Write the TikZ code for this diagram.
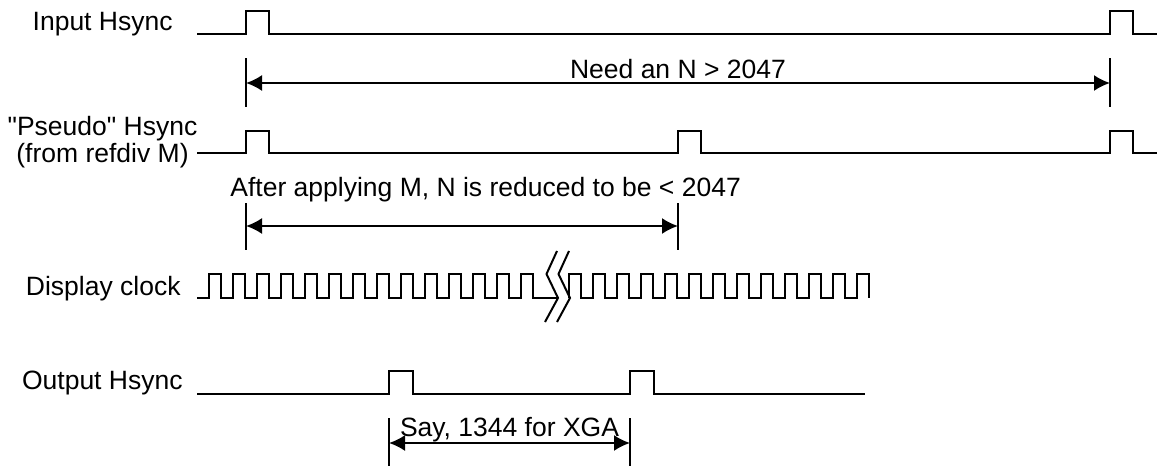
\documentclass[tikz,border=0pt]{standalone}
\usepackage{fontspec}
\newfontfamily\lblfont{Liberation Sans}
\usetikzlibrary{arrows.meta}

\begin{document}
\begin{tikzpicture}[x=0.5pt, y=-0.5pt,
        sig/.style={black, line width=1pt},
        lbl/.style={inner sep=0pt, font=\lblfont\fontsize{13.25}{13.5}\selectfont},
        dim/.style={black, line width=1pt, >={Latex[length=8pt,width=8pt]}, <->}]
        \useasboundingbox (0,0) rectangle (1157,466);

        \node[lbl, anchor=base east] (inlbl) at (173,30) {Input Hsync};
        \node[lbl, anchor=base, align=center] (pslbl) at (102.5,162) {"Pseudo" Hsync\\(from refdiv M)};
        \node[lbl, anchor=base east] (clklbl) at (181,295) {Display clock};
        \node[lbl, anchor=base east] (outlbl) at (183,389) {Output Hsync};

        \draw [sig] (197,34) -- (246,34) -- (246,11) -- (269,11) -- (269,34)
            -- (1110,34) -- (1110,11) -- (1133,11) -- (1133,34) -- (1157,34);
        \draw [sig] (197,153)
            foreach \x in {246,678,1110} { -- (\x,153) -- (\x,131) -- (\x+23,131) -- (\x+23,153) }
            -- (1157,153);
        \draw [sig] (197,394)
            foreach \x in {389,630} { -- (\x,394) -- (\x,371) -- (\x+24,371) -- (\x+24,394) }
            -- (865,394);

        \draw [sig] (197,298)
            foreach \k in {0,...,13} { -- ({209+24*\k},298) -- ++(0,-24) -- ++(12,0) -- ++(0,24) }
            -- (558,298);
        \draw [sig] (569,298)
            foreach \k in {0,...,12} { -- ({569+24*\k},298) -- ++(0,-24) -- ++(12,0) -- ++(0,24) };
        \draw [sig] (557,251) -- (546.5,274) -- (558,298) -- (545,322);
        \draw [sig] (569,251) -- (558.5,274) -- (570,298) -- (557,322);

        \coordinate (n0) at (246,83);
        \coordinate (n1) at (1110,83);
        \draw [sig] (246,58) -- (246,107);
        \draw [sig] (1110,58) -- (1110,107);
        \draw [dim] (n0) -- node[lbl, midway, anchor=base, yshift=2.3pt] (nlbl) {Need an N > 2047} (n1);

        \coordinate (m0) at (246,226);
        \coordinate (m1) at (678,226);
        \draw [sig] (246,203) -- (246,250);
        \draw [sig] (678,203) -- (678,250);
        \draw [dim] (m0) -- (m1);
        \node[lbl, anchor=base west] (mlbl) at (230,196) {After applying M, N is reduced to be < 2047};

        \coordinate (s0) at (389,443);
        \coordinate (s1) at (630,443);
        \draw [sig] (389,418) -- (389,466);
        \draw [sig] (630,418) -- (630,466);
        \draw [dim] (s0) -- node[lbl, midway, anchor=base, yshift=3.5pt] (slbl) {Say, 1344 for XGA} (s1);
    \end{tikzpicture}
\end{document}
